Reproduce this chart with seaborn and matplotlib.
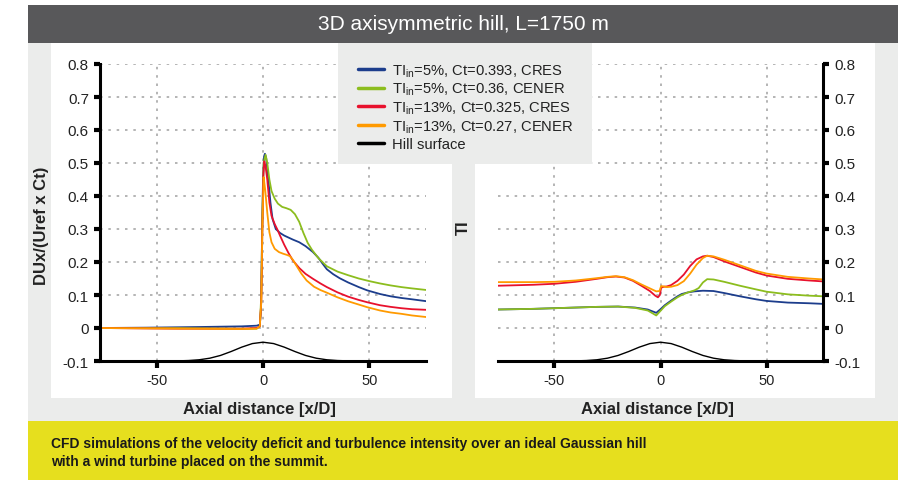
import matplotlib
matplotlib.use('Agg')
import matplotlib.pyplot as plt
from matplotlib.patches import Rectangle
from matplotlib import font_manager
import seaborn as sns
import pandas as pd

# values
xticks = [-50, 0, 50]
yticks = [-0.1, 0, 0.1, 0.2, 0.3, 0.4, 0.5, 0.6, 0.7, 0.8]
ytick_labels = ['-0.1', '0', '0.1', '0.2', '0.3', '0.4', '0.5', '0.6', '0.7', '0.8']

labels = [r'TI$_{\mathregular{in}}$=5%, Ct=0.393, CRES',
          r'TI$_{\mathregular{in}}$=5%, Ct=0.36, CENER',
          r'TI$_{\mathregular{in}}$=13%, Ct=0.325, CRES',
          r'TI$_{\mathregular{in}}$=13%, Ct=0.27, CENER',
          'Hill surface']
colors = ['#1c3d8c', '#8cbd1e', '#e8112d', '#ff9a00', 'black']

# velocity deficit DUx/(Uref x Ct)
du_x_blue = [-77, -55, -30, -10, -3, -1.5, -1, -0.5, 0, 0.5, 0.9, 1.5, 2.5, 3.5, 4.5, 6, 8, 10, 14, 17,
             20, 23.5, 26, 28, 30, 33, 36, 40, 45, 49, 55, 60, 65, 70, 77]
du_blue = [0.0, 0.001, 0.003, 0.005, 0.007, 0.01, 0.05, 0.25, 0.45, 0.52, 0.528, 0.515, 0.45, 0.38, 0.33,
           0.30, 0.288, 0.28, 0.268, 0.26, 0.248, 0.23, 0.213, 0.195, 0.178, 0.163, 0.151, 0.138, 0.124,
           0.114, 0.103, 0.096, 0.091, 0.087, 0.081]

du_x_green = [-77, -40, -10, -3, -1.5, -0.8, -0.3, 0.3, 1.2, 2, 3, 4, 5.5, 7, 9, 11, 13, 15, 17, 19, 21,
              23, 26, 30, 35, 40, 45, 50, 55, 60, 65, 70, 77]
du_green = [0.0, 0.0, -0.002, -0.002, 0.005, 0.1, 0.35, 0.5, 0.525, 0.5, 0.45, 0.415, 0.392, 0.377,
            0.367, 0.363, 0.358, 0.345, 0.322, 0.288, 0.258, 0.237, 0.212, 0.187, 0.171, 0.160, 0.150,
            0.142, 0.135, 0.129, 0.124, 0.120, 0.115]

du_x_red = [-77, -40, -10, -3, -1.5, -0.8, -0.3, 0.2, 0.6, 1.2, 2, 3, 4, 5.5, 7, 8, 10, 12, 14, 17, 20,
            23.5, 27, 30, 35, 40, 45, 49, 55, 60, 65, 70, 77]
du_red = [0.0, -0.002, -0.002, 0.0, 0.005, 0.08, 0.3, 0.47, 0.505, 0.49, 0.45, 0.38, 0.34, 0.315, 0.295,
          0.28, 0.252, 0.227, 0.205, 0.182, 0.164, 0.149, 0.135, 0.124, 0.108, 0.095, 0.085, 0.078,
          0.069, 0.064, 0.060, 0.057, 0.055]

du_x_orange = [-77, -40, -10, -3, -1.5, -0.8, -0.3, 0.3, 1, 2, 3, 4, 5.5, 7.5, 9.5, 11, 12.6, 14, 15.7,
               18, 20.5, 24, 27, 30, 35, 40, 45, 49, 55, 60, 65, 70, 77]
du_orange = [0.0, -0.002, -0.003, -0.002, 0.005, 0.08, 0.3, 0.457, 0.42, 0.35, 0.29, 0.26, 0.24, 0.23,
             0.225, 0.222, 0.218, 0.207, 0.189, 0.165, 0.144, 0.125, 0.115, 0.107, 0.093, 0.081, 0.071,
             0.063, 0.053, 0.047, 0.043, 0.038, 0.033]

# turbulence intensity TI
ti_x_blue = [-77, -60, -50, -40, -30, -20, -12, -6, -2, 0, 2, 5, 8, 10, 13, 16, 20, 25, 30, 37.5, 45,
             50, 60, 70, 77]
ti_blue = [0.056, 0.058, 0.060, 0.062, 0.064, 0.065, 0.062, 0.056, 0.046, 0.057, 0.069, 0.083, 0.096,
           0.103, 0.108, 0.111, 0.113, 0.112, 0.106, 0.096, 0.087, 0.082, 0.077, 0.075, 0.073]

ti_x_green = [-77, -60, -50, -40, -30, -20, -12, -6, -2, 0, 2, 5, 8, 10, 13, 16, 18, 20, 22, 25, 30,
              37.5, 45, 50, 60, 70, 77]
ti_green = [0.056, 0.058, 0.060, 0.062, 0.064, 0.065, 0.061, 0.053, 0.038, 0.052, 0.066, 0.080, 0.093,
            0.100, 0.108, 0.114, 0.121, 0.138, 0.148, 0.147, 0.140, 0.128, 0.117, 0.110, 0.102, 0.098,
            0.096]

ti_x_red = [-77, -60, -50, -40, -30, -25, -21, -17, -13, -9, -5, -2.5, -1.2, -0.3, 0.3, 1.5, 3, 5, 8,
            11, 14, 17, 20, 22, 25, 30, 37.5, 45, 50, 60, 70, 77]
ti_red = [0.128, 0.131, 0.134, 0.14, 0.149, 0.154, 0.156, 0.153, 0.143, 0.128, 0.112, 0.098, 0.093,
          0.10, 0.122, 0.125, 0.126, 0.13, 0.143, 0.162, 0.188, 0.208, 0.217, 0.219, 0.215, 0.202,
          0.185, 0.168, 0.159, 0.149, 0.144, 0.141]

ti_x_orange = [-77, -60, -50, -40, -30, -25, -21, -17, -13, -9, -5, -2, -0.5, 0.3, 1.5, 3, 5, 8, 11,
               14, 17, 20, 22, 25, 30, 37.5, 45, 50, 60, 70, 77]
ti_orange = [0.139, 0.139, 0.140, 0.144, 0.151, 0.155, 0.157, 0.154, 0.145, 0.132, 0.120, 0.111, 0.112,
             0.127, 0.126, 0.124, 0.125, 0.13, 0.142, 0.165, 0.192, 0.212, 0.219, 0.217, 0.207, 0.19,
             0.173, 0.165, 0.155, 0.150, 0.147]

# hill surface (same in both panels)
hill_x = [-77, -40, -35, -30, -25, -20, -15, -10, -5, 0, 5, 10, 15, 20, 25, 30, 35, 40, 77]
hill_y = [-0.1, -0.0996, -0.0986, -0.0963, -0.0915, -0.0832, -0.0713, -0.058, -0.0472, -0.043,
          -0.0472, -0.058, -0.0713, -0.0832, -0.0915, -0.0963, -0.0986, -0.0996, -0.1]

sns.set_theme(style='white')
names = {f.name for f in font_manager.fontManager.ttflist}
narrow = 'Liberation Sans Narrow' if 'Liberation Sans Narrow' in names else 'Liberation Sans'
plt.rcParams['font.family'] = ['Liberation Sans', 'DejaVu Sans']
plt.rcParams['axes.unicode_minus'] = False
plt.rcParams['mathtext.fontset'] = 'custom'
plt.rcParams['mathtext.rm'] = 'Liberation Sans'

W, H = 913, 481


def box(x0, y0, x1, y1):
    return (x0 / W, 1 - y1 / H), (x1 - x0) / W, (y1 - y0) / H


fig = plt.figure(figsize=(W / 100, H / 100), dpi=100)
fig.patch.set_facecolor('white')

# background panels
for (x0, y0, x1, y1), c, z in [((28, 6, 898, 44), '#58585a', -5),
                               ((28, 44, 898, 422), '#ebeceb', -5),
                               ((28, 422, 898, 481), '#e6df1e', -5),
                               ((51, 44, 452, 399), 'white', -4),
                               ((475, 44, 875, 399), 'white', -4),
                               ((338, 44, 592, 165), '#ebeceb', 3)]:
    xy, w, h = box(x0, y0, x1, y1)
    fig.add_artist(Rectangle(xy, w, h, transform=fig.transFigure, facecolor=c,
                             edgecolor='none', zorder=z))

ax1 = fig.add_axes([100 / W, 1 - 362 / H, 326 / W, 297 / H])
ax2 = fig.add_axes([498 / W, 1 - 362 / H, 325 / W, 297 / H])

du_series = [(du_x_blue, du_blue), (du_x_green, du_green), (du_x_red, du_red), (du_x_orange, du_orange)]
ti_series = [(ti_x_blue, ti_blue), (ti_x_green, ti_green), (ti_x_red, ti_red), (ti_x_orange, ti_orange)]

for i, (xs, ys) in enumerate(du_series):
    df = pd.DataFrame({'x': xs, 'y': ys})
    sns.lineplot(data=df, x='x', y='y', ax=ax1, color=colors[i], lw=1.3, label=labels[i])
for i, (xs, ys) in enumerate(ti_series):
    df = pd.DataFrame({'x': xs, 'y': ys})
    sns.lineplot(data=df, x='x', y='y', ax=ax2, color=colors[i], lw=1.3)
hill = pd.DataFrame({'x': hill_x, 'y': hill_y})
sns.lineplot(data=hill, x='x', y='y', ax=ax1, color='black', lw=1.0, label=labels[4])
sns.lineplot(data=hill, x='x', y='y', ax=ax2, color='black', lw=1.0)

handles, labs = ax1.get_legend_handles_labels()
if ax1.get_legend():
    ax1.get_legend().remove()
if ax2.get_legend():
    ax2.get_legend().remove()

for ax in (ax1, ax2):
    ax.set_facecolor('none')
    ax.set_xlim(-76.6, 76.6)
    ax.set_ylim(-0.1, 0.8)
    ax.set_xticks(xticks)
    ax.set_xticklabels([str(t) for t in xticks])
    ax.set_yticks(yticks)
    ax.set_yticklabels(ytick_labels)
    ax.grid(True, color='#a8a8a8', linestyle=(0, (1.5, 3.5)), linewidth=1.2)
    ax.set_axisbelow(True)
    for s in ax.spines.values():
        s.set_visible(False)
    ax.spines['bottom'].set_visible(True)
    ax.spines['bottom'].set_linewidth(2.2)
    ax.spines['bottom'].set_color('black')
    ax.tick_params(axis='both', direction='out', length=4.5, width=3, color='black',
                   labelsize=11, labelcolor='#222222', pad=3.5)
    ax.tick_params(axis='x', bottom=True, length=5, labelsize=10.5)
    ax.set_xlabel('Axial distance [x/D]', fontsize=12, fontweight='bold', family=narrow,
                  color='#222222')
    ax.xaxis.set_label_coords(0.49, -0.135)

ax1.spines['left'].set_visible(True)
ax1.spines['left'].set_linewidth(2.2)
ax1.spines['left'].set_color('black')
ax1.tick_params(axis='y', left=True, right=False)
ax1.set_ylabel('DUx/(Uref x Ct)', fontsize=12, fontweight='bold', color='#222222')
ax1.yaxis.set_label_coords(-0.155, 0.46)

ax2.spines['right'].set_visible(True)
ax2.spines['right'].set_linewidth(2.2)
ax2.spines['right'].set_color('black')
ax2.yaxis.tick_right()
ax2.tick_params(axis='y', left=False, right=True)
ax2.yaxis.set_label_position('left')
ax2.set_ylabel('TI', fontsize=12, fontweight='bold', color='#222222')
ax2.yaxis.set_label_coords(-0.083, 0.453)

leg = fig.legend(handles, labs, loc='upper left', bbox_to_anchor=(358 / W, 1 - 63 / H),
                 frameon=False, fontsize=10.6, handlelength=1.75, handletextpad=0.55,
                 labelspacing=0.14, borderpad=0, borderaxespad=0)
for line in leg.get_lines():
    line.set_linewidth(2.5)
for t in leg.get_texts():
    t.set_color('#222222')
leg.set_zorder(6)

fig.text(463 / W, 1 - 25 / H, '3D axisymmetric hill, L=1750 m', color='white', fontsize=15,
         ha='center', va='center', family=narrow)
fig.text(51 / W, 1 - 444 / H,
         'CFD simulations of the velocity deficit and turbulence intensity over an ideal Gaussian hill',
         fontsize=10, fontweight='bold', family=narrow, va='center', color='#1a1a1a')
fig.text(51 / W, 1 - 462 / H, 'with a wind turbine placed on the summit.',
         fontsize=10, fontweight='bold', family=narrow, va='center', color='#1a1a1a')

fig.savefig('out.png', dpi=100)
